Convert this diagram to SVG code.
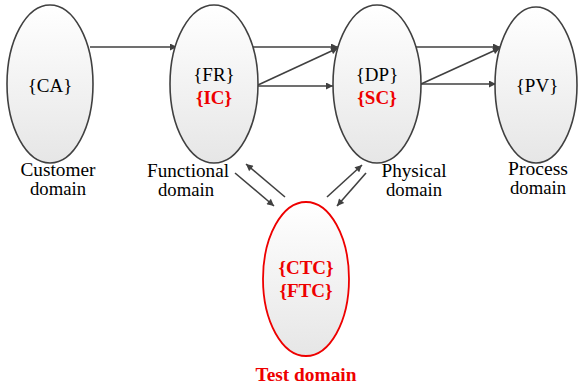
<svg xmlns="http://www.w3.org/2000/svg" width="578" height="386" viewBox="0 0 578 386">
<defs>
<linearGradient id="g" x1="0" y1="0" x2="0" y2="1">
<stop offset="0" stop-color="#ffffff"/>
<stop offset="1" stop-color="#e6e6e6"/>
</linearGradient>
<marker id="ah" viewBox="0 0 10 10" refX="10" refY="5" markerWidth="9" markerHeight="7" markerUnits="userSpaceOnUse" orient="auto">
<path d="M0,0 L10,5 L0,10 z" fill="#404040"/>
</marker>
</defs>
<style>
.n{fill:url(#g);stroke:#404040;stroke-width:1.6}
.t{fill:url(#g);stroke:#ee0000;stroke-width:1.8}
.c{stroke:#404040;stroke-width:1.6;fill:none;marker-end:url(#ah)}
.b{font-size:19px;fill:#000}
.r{font-size:19px;fill:#ee0000;font-weight:bold}
.l{font-size:18px;fill:#000}
</style>
<g id="connectors">
<line class="c" x1="90" y1="47" x2="177" y2="47"/>
<line class="c" x1="252" y1="47" x2="338" y2="47"/>
<line class="c" x1="258" y1="85" x2="338" y2="48"/>
<line class="c" x1="258" y1="86" x2="333" y2="86"/>
<line class="c" x1="414" y1="47" x2="500" y2="47"/>
<line class="c" x1="421" y1="84" x2="500" y2="48"/>
<line class="c" x1="421" y1="84" x2="496" y2="84"/>
<line class="c" x1="235" y1="173" x2="274" y2="206"/>
<line class="c" x1="285" y1="197" x2="246" y2="164"/>
<line class="c" x1="327" y1="197" x2="362" y2="165"/>
<line class="c" x1="366" y1="173" x2="337" y2="206"/>
</g>
<g font-family="Liberation Serif, Times New Roman, DejaVu Serif, serif" text-anchor="middle">
<g id="customer">
<ellipse class="n" cx="50" cy="84" rx="43" ry="79"/>
<text class="b" x="50" y="92">{CA}</text>
<text class="l" x="58" y="176" textLength="75" lengthAdjust="spacingAndGlyphs">Customer</text>
<text class="l" x="58" y="195" textLength="56" lengthAdjust="spacingAndGlyphs">domain</text>
</g>
<g id="functional">
<ellipse class="n" cx="214" cy="84" rx="44" ry="79"/>
<text class="b" x="214" y="81">{FR}</text>
<text class="r" x="214" y="104">{IC}</text>
<text class="l" x="188" y="177" textLength="82" lengthAdjust="spacingAndGlyphs">Functional</text>
<text class="l" x="186" y="196" textLength="56" lengthAdjust="spacingAndGlyphs">domain</text>
</g>
<g id="physical">
<ellipse class="n" cx="377" cy="84" rx="44" ry="79"/>
<text class="b" x="377" y="81">{DP}</text>
<text class="r" x="377" y="104">{SC}</text>
<text class="l" x="414" y="177" textLength="65" lengthAdjust="spacingAndGlyphs">Physical</text>
<text class="l" x="414" y="196" textLength="56" lengthAdjust="spacingAndGlyphs">domain</text>
</g>
<g id="process">
<ellipse class="n" cx="536" cy="85" rx="41" ry="78"/>
<text class="b" x="537" y="92">{PV}</text>
<text class="l" x="538" y="175" textLength="60" lengthAdjust="spacingAndGlyphs">Process</text>
<text class="l" x="538" y="194" textLength="56" lengthAdjust="spacingAndGlyphs">domain</text>
</g>
<g id="test">
<ellipse class="t" cx="306" cy="279" rx="43" ry="77"/>
<text class="r" x="306" y="274">{CTC}</text>
<text class="r" x="306" y="297">{FTC}</text>
<text class="r" x="306" y="381" textLength="101" lengthAdjust="spacingAndGlyphs">Test domain</text>
</g>
</g>
</svg>
